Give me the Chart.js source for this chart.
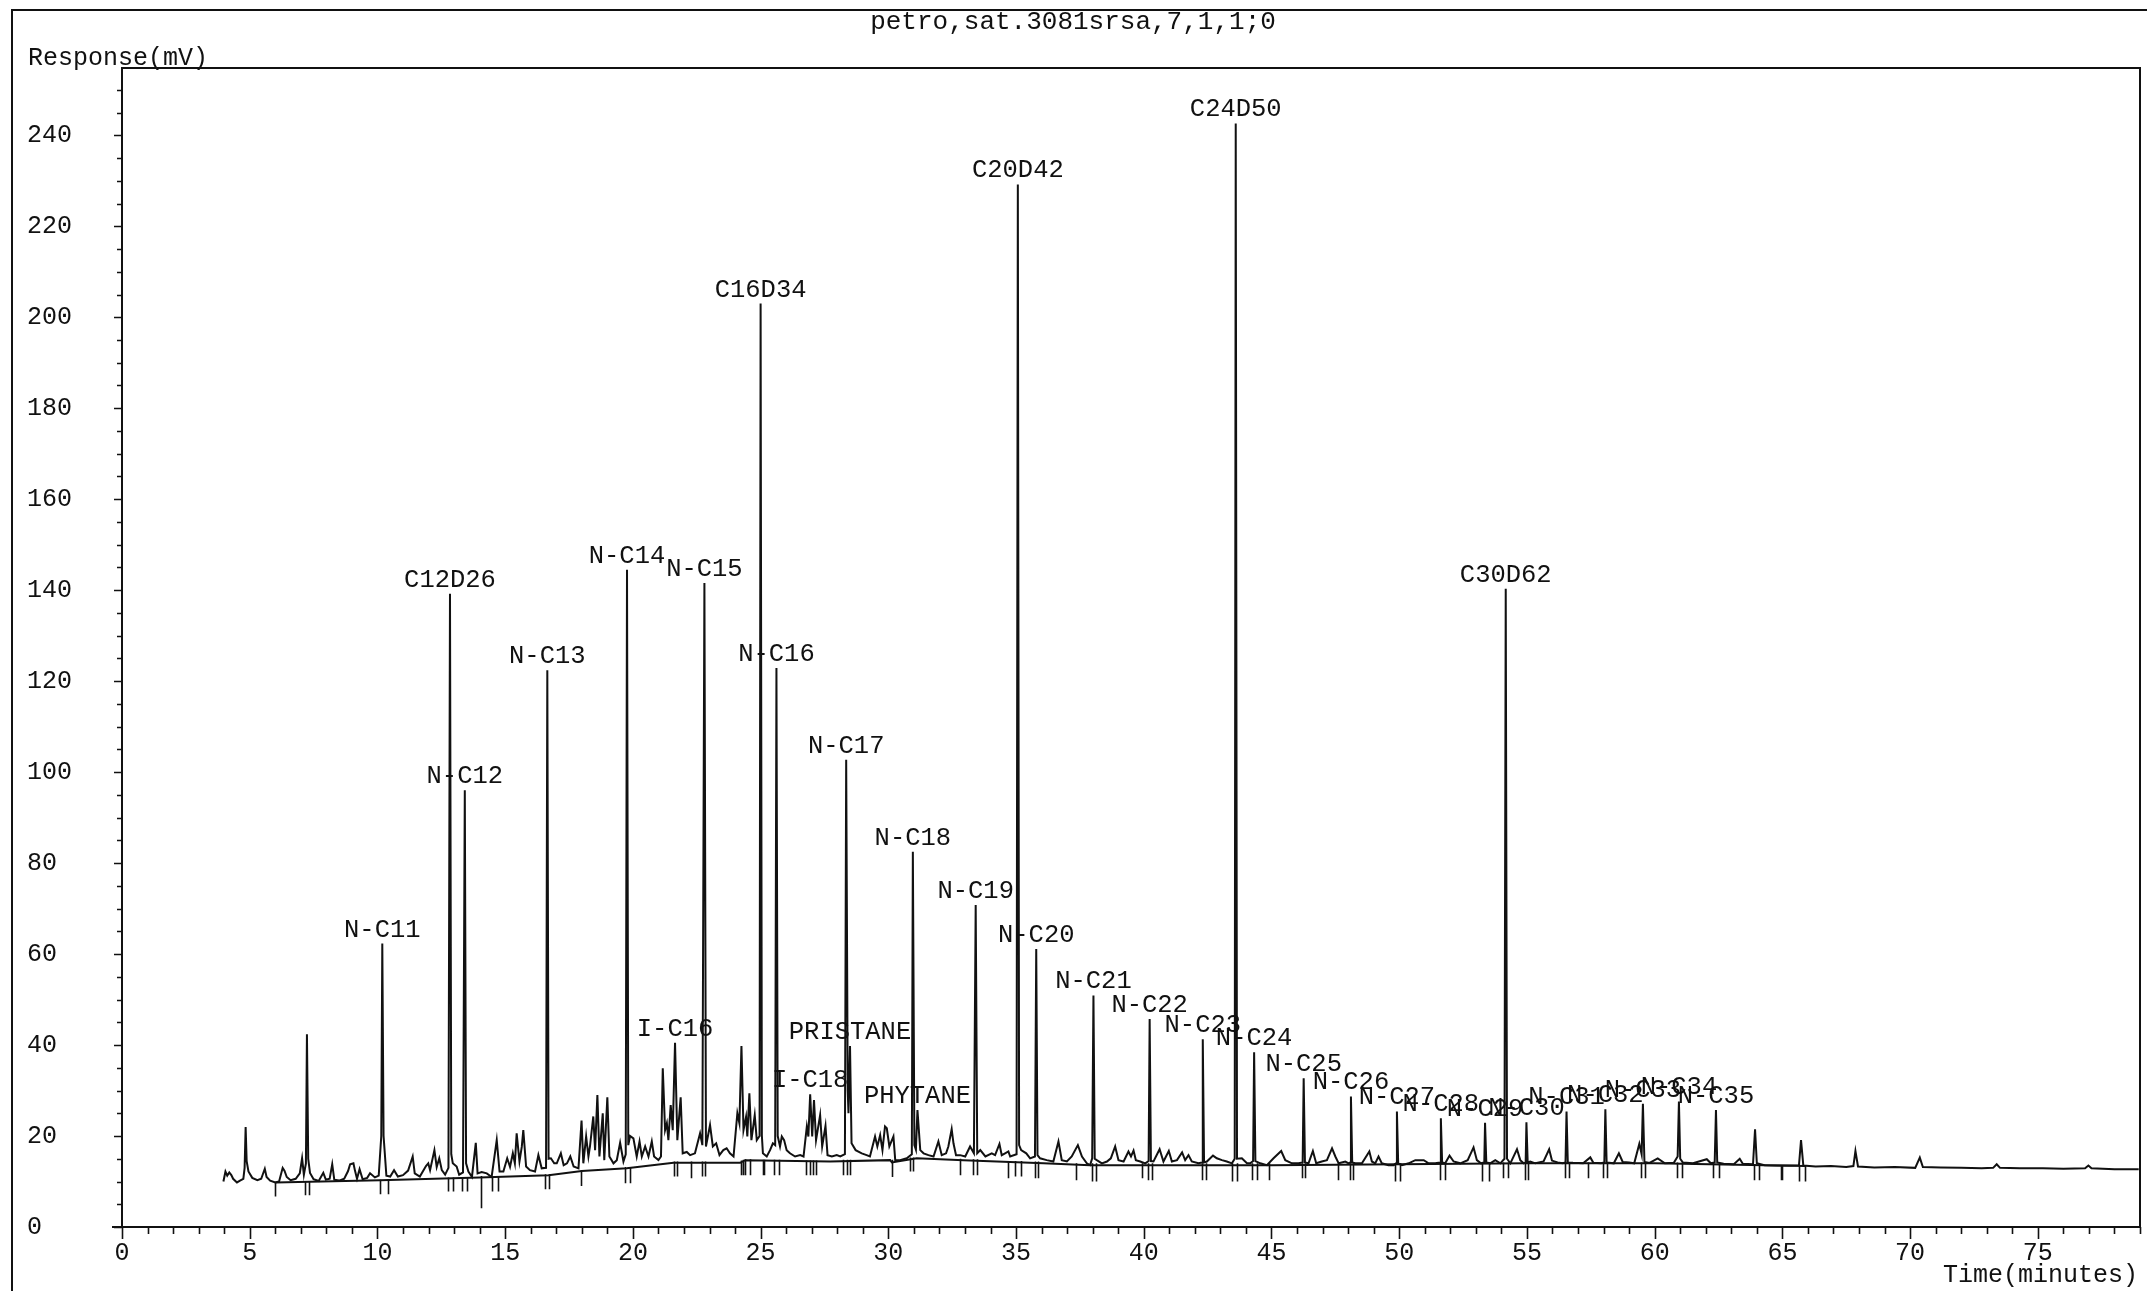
<!DOCTYPE html>
<html>
<head>
<meta charset="utf-8">
<script src="https://cdn.jsdelivr.net/npm/chart.js@4.4.1/dist/chart.umd.min.js"></script>
<style>
  html, body { margin: 0; padding: 0; background: #fff; }
  #wrap { width: 2147px; height: 1291px; position: relative; }
</style>
</head>
<body>
<div id="wrap"><canvas id="c"></canvas></div>
<script>
// Run identification and axis captions
const runTitle = 'petro,sat.3081srsa,7,1,1;0';
const yAxisTitle = 'Response(mV)';
const xAxisTitle = 'Time(minutes)';

// Labelled tick values
const xTickLabels = [0, 5, 10, 15, 20, 25, 30, 35, 40, 45, 50, 55, 60, 65, 70, 75];
const yTickLabels = [0, 20, 40, 60, 80, 100, 120, 140, 160, 180, 200, 220, 240];

// Detector signal: [retention time (min), response (mV)]
const trace = [
  [3.97,10.0],[4.05,12.2],[4.12,11.3],[4.2,12.0],[4.28,11.4],[4.35,10.6],[4.5,9.8],[4.62,10.2],[4.75,10.6],[4.8,13],[4.84,22.0],[4.88,14.5],[4.95,12.2],[5.1,10.8],[5.3,10.3],[5.45,10.6],[5.59,12.8],[5.66,11.0],[5.8,10.2],[6.0,9.8],[6.15,10.0],[6.29,13.0],[6.36,12.4],[6.45,11.0],[6.6,10.3],[6.8,10.6],[6.96,11.8],[7.05,15.1],[7.12,11.5],[7.2,14],[7.24,42.4],[7.29,15],[7.36,11.9],[7.5,10.5],[7.7,10.1],[7.88,11.9],[7.98,10.4],[8.13,10.6],[8.23,13.8],[8.31,10.4],[8.5,10.2],[8.7,10.6],[8.85,12.3],[8.93,13.8],[9.06,14.0],[9.12,12.4],[9.2,10.6],[9.3,12.7],[9.42,10.5],[9.6,10.8],[9.71,11.8],[9.9,10.9],[10.05,11.3],[10.15,20],[10.19,62.3],[10.24,20],[10.35,11.3],[10.5,11.1],[10.65,12.5],[10.8,11.1],[11.0,11.4],[11.2,12.4],[11.38,15.5],[11.46,11.8],[11.66,11.1],[11.9,13.4],[11.99,14.0],[12.06,12.5],[12.23,16.9],[12.32,13.2],[12.42,15.1],[12.52,12.5],[12.65,11.5],[12.78,13],[12.84,139.2],[12.89,16],[12.95,14.0],[13.1,13.3],[13.2,11.5],[13.35,12],[13.42,96],[13.47,14],[13.56,12.2],[13.7,11.0],[13.85,18.5],[13.92,11.8],[14.08,12.1],[14.28,11.8],[14.47,11.0],[14.67,19.1],[14.78,12.2],[14.93,12.2],[15.08,15.1],[15.19,13.2],[15.3,16.2],[15.38,14.0],[15.45,20.6],[15.56,14.4],[15.65,17.6],[15.71,21.3],[15.82,13.3],[15.97,12.5],[16.17,12.2],[16.3,15.8],[16.43,12.9],[16.6,13],[16.65,122.4],[16.7,15],[16.79,15.1],[16.92,14.0],[17.02,14.0],[17.18,16.2],[17.29,13.6],[17.42,14.0],[17.55,15.5],[17.68,13.3],[17.87,12.9],[17.99,23.4],[18.06,14.0],[18.17,19.9],[18.26,15.5],[18.32,17.7],[18.45,24.3],[18.52,16.9],[18.61,29.0],[18.69,15.5],[18.82,25.0],[18.88,14.7],[19.0,28.5],[19.08,15.5],[19.24,14.0],[19.37,14.7],[19.5,18.5],[19.63,14.4],[19.72,16],[19.77,144.5],[19.82,18],
  [19.89,20.0],[20.02,19.5],[20.15,15.5],[20.26,18.8],[20.35,15.5],[20.48,17.7],[20.61,15.5],[20.74,18.8],[20.83,15.5],[21.0,14.7],[21.1,15.5],[21.17,34.9],[21.26,21.3],[21.33,22.8],[21.39,19.1],[21.48,26.8],[21.56,21.3],[21.65,40.5],[21.74,19.1],[21.87,28.5],[21.95,16.2],[22.11,16.5],[22.24,15.8],[22.43,16.2],[22.63,20.6],[22.72,18],[22.8,141.6],[22.86,17.7],[23.02,22.4],[23.13,17.7],[23.26,18.4],[23.39,15.8],[23.54,16.9],[23.67,17.3],[23.8,16.2],[23.94,15.5],[24.09,25.0],[24.17,22.8],[24.25,39.8],[24.33,21.3],[24.43,24.2],[24.48,19.9],[24.56,29.4],[24.64,19.1],[24.77,24.6],[24.85,19.1],[24.96,20],[25.0,203],[25.05,20],[25.09,16.2],[25.24,15.5],[25.37,16.9],[25.48,18.4],[25.57,18],[25.62,122.9],[25.67,20],[25.76,17.7],[25.83,19.9],[25.92,19.1],[26.02,16.9],[26.15,16.2],[26.35,15.5],[26.55,15.8],[26.68,15.5],[26.81,22.1],[26.87,19.9],[26.94,29.2],[27.02,19.9],[27.09,27.9],[27.17,19.1],[27.33,24.6],[27.41,17.7],[27.54,22.2],[27.62,15.8],[27.79,15.5],[27.98,15.8],[28.12,15.5],[28.3,16],[28.35,102.7],[28.41,30],[28.44,25],[28.5,39.8],[28.56,18.4],[28.72,16.9],[28.96,16.2],[29.15,15.8],[29.28,15.5],[29.48,19.9],[29.57,17.7],[29.68,20.2],[29.77,16.9],[29.87,22.1],[29.94,21.7],[30.04,17.7],[30.2,19.9],[30.27,14.7],[30.46,14.7],[30.72,15.1],[30.92,16],[30.96,82.5],[31.02,18],[31.08,17],[31.14,25.7],[31.25,16.9],[31.38,16.2],[31.57,15.8],[31.77,15.5],[31.96,18.8],[32.09,15.8],[32.26,16.2],[32.35,17.7],[32.48,21.5],[32.55,18.4],[32.65,15.8],[32.81,15.8],[33.01,15.5],[33.2,17.7],[33.35,16.2],[33.42,70.8],[33.48,16.2],[33.6,16.9],[33.8,15.5],[34.05,16.2],[34.18,15.8],[34.35,18.25],[34.44,15.8],[34.57,16.2],[34.7,16.6],[34.77,15.5],[35.02,16],[35.07,229.2],[35.12,18],[35.2,16.9],[35.4,16.2],[35.55,15.1],[35.74,15.5],[35.79,61.1],[35.84,15.8],[35.94,15.1],[36.2,14.7],[36.46,14.4],[36.66,18.8],[36.79,14.7],[36.99,14.4],[37.18,15.5],[37.42,18.0],[37.58,15.5],[37.77,14.0],[37.9,13.6],
  [37.98,15.1],[38.03,50.9],[38.08,15],[38.16,14.7],[38.36,14.0],[38.56,14.4],[38.71,15.1],[38.88,17.7],[39.01,14.7],[39.21,14.4],[39.4,16.6],[39.5,15.5],[39.6,16.8],[39.69,14.7],[39.86,14.4],[40.06,14.0],[40.19,14.5],[40.23,45.7],[40.28,14.5],[40.38,14.4],[40.62,17.1],[40.77,14.4],[40.98,16.7],[41.1,14.4],[41.3,14.7],[41.5,16.4],[41.62,14.7],[41.75,15.8],[41.88,14.4],[42.14,14.0],[42.28,14.2],[42.31,41.3],[42.36,14.2],[42.47,14.4],[42.71,15.7],[42.86,15.1],[43.06,14.7],[43.25,14.4],[43.45,14.0],[43.56,15],[43.6,242.6],[43.65,15],[43.84,15.1],[44.04,14.0],[44.17,14.0],[44.28,14.5],[44.32,38.4],[44.37,14.5],[44.56,14.0],[44.82,13.6],[45.08,15.1],[45.38,16.7],[45.54,14.7],[45.8,14.0],[46.06,14.0],[46.22,14.2],[46.26,32.7],[46.31,14.2],[46.45,14.0],[46.62,16.7],[46.75,14.0],[46.97,14.4],[47.17,14.7],[47.37,17.3],[47.5,15.5],[47.63,14.0],[47.89,14.4],[48.02,14.0],[48.08,14.2],[48.11,28.7],[48.16,14.2],[48.28,14.0],[48.54,14.0],[48.83,16.6],[48.93,14.4],[49.06,14.0],[49.19,15.5],[49.32,14.0],[49.58,13.6],[49.78,13.6],[49.88,14],[49.91,25.4],[49.96,14],[50.11,13.6],[50.37,14.0],[50.63,14.7],[50.96,14.7],[51.15,14.0],[51.41,14.0],[51.6,14.2],[51.63,23.9],[51.68,14.2],[51.8,14.0],[51.97,15.7],[52.13,14.4],[52.39,14.0],[52.68,14.7],[52.91,17.5],[53.04,14.7],[53.2,14.0],[53.33,14.2],[53.36,22.9],[53.41,14.2],[53.56,14.0],[53.76,14.7],[53.96,14.0],[54.12,15],[54.17,140.3],[54.22,15],[54.35,14.0],[54.61,17.1],[54.74,14.7],[54.87,14.0],[54.95,14.2],[54.98,23.0],[55.03,14.2],[55.13,14.4],[55.33,14.0],[55.65,14.4],[55.87,17.1],[55.98,14.6],
  [56.2,14.2],[56.4,14.0],[56.51,14.2],[56.55,25.4],[56.6,14.2],[56.8,14.1],[57.2,14.0],[57.48,15.3],[57.6,14.1],[57.9,14.0],[58.03,14.2],[58.07,25.9],[58.12,14.2],[58.4,14.0],[58.6,16.2],[58.75,14.3],[59.0,14.2],[59.2,14.0],[59.4,18.3],[59.49,16],[59.54,27.1],[59.6,14.3],[59.8,14.1],[60.12,15.1],[60.4,14.0],[60.75,14.1],[60.9,15.5],[60.95,27.6],[61.0,15],[61.1,14.2],[61.5,14.0],[62.04,14.9],[62.2,14.0],[62.35,14.2],[62.4,25.7],[62.45,14.2],[62.7,13.9],[63.1,13.8],[63.33,15.0],[63.45,13.9],[63.85,13.8],[63.93,21.5],[64.0,14],[64.3,13.6],[64.8,13.5],[65.3,13.5],[65.65,13.6],[65.73,19.1],[65.82,13.5],[66.3,13.3],[66.9,13.4],[67.5,13.2],[67.78,13.4],[67.86,16.7],[67.96,13.3],[68.6,13.1],[69.4,13.2],[70.2,13.0],[70.38,15.25],[70.5,13.2],[71.2,13.1],[72.0,13.0],[72.8,12.9],[73.25,13.0],[73.39,13.8],[73.52,13.0],[74.3,12.9],[75.2,12.9],[76.0,12.8],[76.85,12.9],[76.98,13.5],[77.1,12.9],[78.0,12.7],[78.95,12.7]
];

// Integration baseline: [time (min), mV]
const baseline = [
  [6.0,9.8],[10.1,10.3],[14.0,10.9],[16.7,11.4],[18.0,12.3],[19.76,12.9],[21.59,14.1],[24.2,14.1],[24.4,14.7],
  [27.72,14.4],[30.07,14.7],[30.14,14.2],[31.11,15.1],[32.94,14.7],[36.07,14.0],[37.9,13.6],[45.0,13.6],
  [55.0,14.0],[60.0,14.0],[65.9,13.4]
];

// Peak start/stop marks: [time (min), upper mV, lower mV]
const markers = [
  [6.0,9.9,6.7],[7.16,10.1,7.0],[7.33,10.1,7.0],[10.1,10.4,7.2],[10.43,10.5,7.2],[12.75,10.9,7.8],[12.95,10.9,7.8],
  [13.3,11.0,7.8],[13.5,11.0,7.8],[14.04,11.2,4.1],[14.5,11.0,7.8],[14.73,11.0,7.8],[16.56,11.6,8.3],[16.72,11.6,8.3],
  [17.96,12.5,9.0],[19.7,13.2,9.6],[19.9,13.2,9.6],[21.59,14.4,11.1],[21.74,14.4,11.1],[22.27,14.4,10.7],[22.7,14.4,11.1],
  [22.83,14.4,11.1],[24.24,14.6,11.4],[24.33,14.8,11.4],[24.39,14.9,11.4],[24.59,14.9,11.4],[25.09,14.8,11.4],[25.15,14.8,11.4],
  [25.53,14.8,11.4],[25.72,14.8,11.4],[26.78,14.6,11.4],[26.94,14.6,11.4],[27.07,14.6,11.4],[27.17,14.6,11.4],[28.24,14.8,11.4],
  [28.37,14.8,11.4],[28.5,14.8,11.4],[30.14,14.8,11.0],[30.85,15.3,12.2],[30.98,15.3,12.2],[32.81,15.0,11.4],[33.33,14.9,11.4],
  [33.49,14.9,11.4],[34.7,14.5,10.7],[34.96,14.5,11.1],[35.19,14.5,11.1],[35.75,14.4,10.7],[35.84,14.4,10.7],[37.33,14.0,10.3],
  [37.97,14.0,10.0],[38.14,14.0,10.0],[39.93,14.0,10.7],[40.15,14.0,10.3],[40.32,14.0,10.3],[42.28,14.0,10.3],[42.45,14.0,10.3],
  [43.45,14.0,10.0],[43.65,14.0,10.0],[44.23,14.0,10.3],[44.43,14.0,10.3],[44.92,14.0,10.3],[46.19,14.0,10.7],[46.32,14.0,10.7],
  [47.59,14.0,10.3],[48.06,14.0,10.3],[48.19,14.0,10.3],[49.85,14.0,10.0],[50.04,14.0,10.0],[51.58,14.0,10.3],[51.8,14.0,10.3],
  [53.26,14.0,10.0],[53.5,14.0,10.0],[54.06,14.2,10.7],[54.26,14.2,10.7],[54.94,14.2,10.3],[55.04,14.2,10.3],[56.5,14.2,10.7],
  [56.64,14.2,10.7],[57.4,14.2,10.7],[57.99,14.2,10.7],[58.15,14.2,10.7],[59.48,14.2,10.7],[59.64,14.2,10.7],[60.87,14.2,10.7],
  [61.08,14.2,10.7],[62.28,14.0,10.7],[62.52,14.0,10.7],[63.89,13.8,10.3],[64.08,13.8,10.3],[64.93,13.6,10.3],[65.0,13.6,10.3],
  [65.65,13.6,10.0],[65.89,13.5,10.0]
];

// Identified compounds and their retention times (min)
const peakNames = ['N-C11','C12D26','N-C12','N-C13','N-C14','I-C16','N-C15','C16D34','N-C16','I-C18','N-C17','PRISTANE',
  'N-C18','PHYTANE','N-C19','C20D42','N-C20','N-C21','N-C22','N-C23','C24D50','N-C24','N-C25','N-C26','N-C27','N-C28',
  'N-C29','C30D62','N-C30','N-C31','N-C32','N-C33','N-C34','N-C35'];
const peakMinutes = [10.19,12.84,13.42,16.65,19.77,21.65,22.8,25.0,25.62,26.94,28.35,28.5,
  30.96,31.14,33.42,35.07,35.79,38.03,40.23,42.31,43.6,44.32,46.26,48.11,49.91,51.63,
  53.36,54.17,54.98,56.55,58.07,59.54,60.95,62.4];

const FONT = "'Liberation Mono', 'Courier New', monospace";
const INK = '#111';

// Apex height of a named peak, taken from the signal itself
function apexAt(t) {
  let best = -Infinity;
  for (const [x, y] of trace) if (Math.abs(x - t) <= 0.03 && y > best) best = y;
  return best;
}

const chromPlugin = {
  id: 'chrom',
  afterDatasetsDraw(chart) {
    const { ctx, scales: { x, y } } = chart;
    ctx.save();
    // start/stop marks
    ctx.strokeStyle = INK;
    ctx.lineWidth = 1.6;
    ctx.beginPath();
    for (const [t, hi, lo] of markers) {
      const px = Math.round(x.getPixelForValue(t)) + 0.5;
      ctx.moveTo(px, y.getPixelForValue(hi));
      ctx.lineTo(px, y.getPixelForValue(lo));
    }
    ctx.stroke();
    // compound names above apexes
    ctx.fillStyle = INK;
    ctx.font = '25.5px ' + FONT;
    ctx.textAlign = 'center';
    ctx.textBaseline = 'alphabetic';
    peakNames.forEach((name, i) => {
      const t = peakMinutes[i];
      ctx.fillText(name, x.getPixelForValue(t), y.getPixelForValue(apexAt(t)) - 7);
    });
    ctx.restore();
  },
  afterDraw(chart) {
    const { ctx, chartArea: a, scales: { x, y } } = chart;
    ctx.save();
    ctx.strokeStyle = INK;
    ctx.lineWidth = 2;
    // page frame
    ctx.beginPath();
    ctx.moveTo(12, 1291); ctx.lineTo(12, 10); ctx.lineTo(2147, 10);
    ctx.stroke();
    // plot frame
    ctx.strokeRect(a.left, a.top, a.right - a.left, a.bottom - a.top);
    ctx.beginPath();
    ctx.moveTo(a.left - 10, a.bottom); ctx.lineTo(a.left, a.bottom);
    ctx.stroke();
    // tick marks
    ctx.lineWidth = 1.6;
    ctx.beginPath();
    for (let m = 0; m <= 79; m++) {
      const px = Math.round(x.getPixelForValue(m)) + 0.5;
      ctx.moveTo(px, a.bottom);
      ctx.lineTo(px, a.bottom + (m % 5 === 0 ? 12 : 7));
    }
    for (let v = 0; v <= 250; v += 5) {
      const py = Math.round(y.getPixelForValue(v)) + 0.5;
      ctx.moveTo(a.left, py);
      ctx.lineTo(a.left - (v % 20 === 0 ? 8 : 5), py);
    }
    ctx.stroke();
    // captions
    ctx.fillStyle = INK;
    ctx.font = '26px ' + FONT;
    ctx.textAlign = 'center';
    ctx.textBaseline = 'middle';
    ctx.fillText(runTitle, 1073, 22);
    ctx.font = '25px ' + FONT;
    ctx.textAlign = 'left';
    ctx.textBaseline = 'alphabetic';
    ctx.fillText(yAxisTitle, 28, 65);
    ctx.textAlign = 'right';
    ctx.textBaseline = 'middle';
    ctx.fillText(xAxisTitle, 2138, 1275);
    ctx.restore();
  }
};

const tickFont = { family: FONT, size: 25 };

new Chart(document.getElementById('c'), {
  type: 'line',
  data: {
    datasets: [
      { data: trace.map(([t, v]) => ({ x: t, y: v })), borderColor: INK, borderWidth: 2,
        pointRadius: 0, tension: 0, fill: false },
      { data: baseline.map(([t, v]) => ({ x: t, y: v })), borderColor: INK, borderWidth: 2,
        pointRadius: 0, tension: 0, fill: false }
    ]
  },
  options: {
    responsive: true,
    maintainAspectRatio: false,
    animation: false,
    layout: { padding: { left: 27, right: 7, top: 68, bottom: 0 } },
    plugins: { legend: { display: false }, tooltip: { enabled: false } },
    scales: {
      x: {
        type: 'linear', min: 0, max: 79,
        grid: { display: false, drawTicks: false },
        border: { display: false },
        afterBuildTicks: s => { s.ticks = xTickLabels.map(v => ({ value: v })); },
        afterFit: s => { s.height = 64; },
        ticks: { autoSkip: false, maxRotation: 0, padding: 11, color: INK, font: tickFont }
      },
      y: {
        type: 'linear', min: 0, max: 254.8,
        grid: { display: false, drawTicks: false },
        border: { display: false },
        afterBuildTicks: s => { s.ticks = yTickLabels.map(v => ({ value: v })); },
        afterFit: s => { s.width = 95; },
        ticks: { autoSkip: false, crossAlign: 'far', padding: 0, color: INK, font: tickFont }
      }
    }
  },
  plugins: [chromPlugin]
});
</script>
</body>
</html>
